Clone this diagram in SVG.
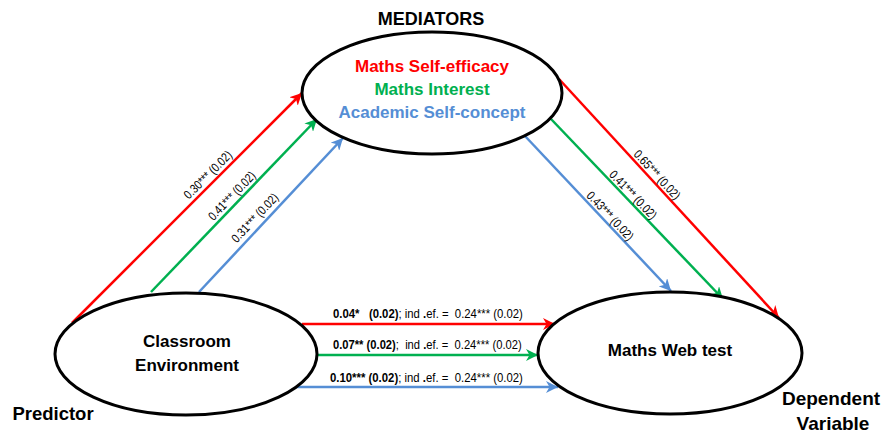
<svg xmlns="http://www.w3.org/2000/svg" width="885" height="437" viewBox="0 0 885 437">
<style>
.node{fill:#fff;stroke:#000;stroke-width:3}
.t{font-family:"Liberation Sans",Arial,sans-serif;font-weight:bold;text-anchor:middle}
.c{fill:none;stroke-width:2.5}
.r{stroke:#FF0000}.g{stroke:#00B050}.b{stroke:#558ED5}
.lab{font-family:"Liberation Sans",Arial,sans-serif;font-size:12.5px;fill:#000;text-anchor:middle}
.hl{font-family:"Liberation Sans",Arial,sans-serif;font-size:12.5px;fill:#000}
</style>
<defs>
<marker id="ar" markerUnits="userSpaceOnUse" markerWidth="14" markerHeight="12" refX="12" refY="6" orient="auto"><path d="M0,0 L12,6 L0,12 L3.5,6 z" fill="#FF0000"/></marker>
<marker id="ag" markerUnits="userSpaceOnUse" markerWidth="14" markerHeight="12" refX="12" refY="6" orient="auto"><path d="M0,0 L12,6 L0,12 L3.5,6 z" fill="#00B050"/></marker>
<marker id="ab" markerUnits="userSpaceOnUse" markerWidth="14" markerHeight="12" refX="12" refY="6" orient="auto"><path d="M0,0 L12,6 L0,12 L3.5,6 z" fill="#558ED5"/></marker>
</defs>

<g id="connectors">
<line class="c r" x1="72" y1="323" x2="302" y2="93" marker-end="url(#ar)"/>
<line class="c g" x1="151" y1="292" x2="317" y2="119" marker-end="url(#ag)"/>
<line class="c b" x1="199" y1="292" x2="343" y2="138" marker-end="url(#ab)"/>
<line class="c r" x1="559" y1="79" x2="779" y2="318" marker-end="url(#ar)"/>
<line class="c g" x1="551" y1="119" x2="723" y2="299" marker-end="url(#ag)"/>
<line class="c b" x1="525" y1="136" x2="671" y2="291" marker-end="url(#ab)"/>
<line class="c r" x1="302" y1="324" x2="555" y2="324" marker-end="url(#ar)"/>
<line class="c g" x1="318" y1="355" x2="538" y2="355" marker-end="url(#ag)"/>
<line class="c b" x1="295" y1="387" x2="558" y2="387" marker-end="url(#ab)"/>

<text class="lab" transform="translate(208,175) rotate(-45) scale(0.83,1)" y="4">0.30*** (0.02)</text>
<text class="lab" transform="translate(232,196) rotate(-46.2) scale(0.83,1)" y="4">0.41*** (0.02)</text>
<text class="lab" transform="translate(255,218) rotate(-46.9) scale(0.83,1)" y="4">0.31*** (0.02)</text>
<text class="lab" transform="translate(657,175) rotate(47.4) scale(0.83,1)" y="4">0.65*** (0.02)</text>
<text class="lab" transform="translate(633,195) rotate(46.3) scale(0.83,1)" y="4">0.41*** (0.02)</text>
<text class="lab" transform="translate(610,216) rotate(46.7) scale(0.83,1)" y="4">0.43*** (0.02)</text>

<text class="hl" transform="translate(333,318) scale(0.907,1)" xml:space="preserve"><tspan font-weight="bold">0.04*   (0.02)</tspan>; ind <tspan font-weight="bold">.</tspan>ef. =  0.24*** (0.02)</text>
<text class="hl" transform="translate(333,349) scale(0.895,1)" xml:space="preserve"><tspan font-weight="bold">0.07** (0.02)</tspan>;  ind <tspan font-weight="bold">.</tspan>ef. =  0.24*** (0.02)</text>
<text class="hl" transform="translate(330,382) scale(0.909,1)" xml:space="preserve"><tspan font-weight="bold">0.10*** (0.02)</tspan>; ind <tspan font-weight="bold">.</tspan>ef. =  0.24*** (0.02)</text>
</g>

<g id="mediators">
<ellipse class="node" cx="432" cy="93" rx="130" ry="61"/>
<text class="t" x="432" y="72" font-size="17" fill="#FF0000">Maths Self-efficacy</text>
<text class="t" x="432" y="95" font-size="17" fill="#00B050">Maths Interest</text>
<text class="t" x="432" y="118" font-size="17" fill="#558ED5">Academic Self-concept</text>
</g>
<g id="classroom">
<ellipse class="node" cx="186" cy="354" rx="131" ry="61"/>
<text class="t" x="187" y="347" font-size="17" fill="#000">Classroom</text>
<text class="t" x="187" y="371" font-size="17" fill="#000">Environment</text>
</g>
<g id="webtest">
<ellipse class="node" cx="670" cy="353" rx="132" ry="61"/>
<text class="t" x="670" y="356" font-size="17" fill="#000">Maths Web test</text>
</g>
<g id="labels">
<text class="t" x="431" y="25" font-size="18" fill="#000">MEDIATORS</text>
<text class="t" x="53" y="420" font-size="18.5" fill="#000">Predictor</text>
<text class="t" x="831" y="405" font-size="19" fill="#000">Dependent</text>
<text class="t" x="833" y="430" font-size="19" fill="#000">Variable</text>
</g>
</svg>
